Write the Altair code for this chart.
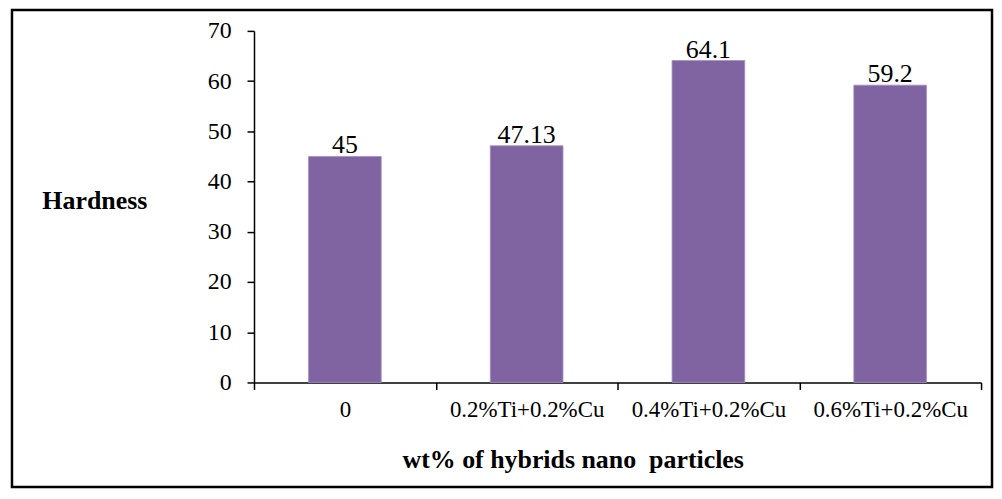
import altair as alt
import pandas as pd

categories = ["0", "0.2%Ti+0.2%Cu", "0.4%Ti+0.2%Cu", "0.6%Ti+0.2%Cu"]
hardness = [45, 47.13, 64.1, 59.2]
labels = ["45", "47.13", "64.1", "59.2"]
y_ticks = [0, 10, 20, 30, 40, 50, 60, 70]

df = pd.DataFrame({"cat": categories, "val": hardness, "lab": labels})

FONT = "'Liberation Serif', 'Times New Roman', serif"
W, H = 730, 353

x_enc = alt.X(
    "cat:N",
    sort=categories,
    scale=alt.Scale(paddingInner=0, paddingOuter=0),
    axis=alt.Axis(
        title="wt% of hybrids nano\u00a0 particles",
        titleFont=FONT, titleFontSize=26, titleFontWeight="bold", titleColor="black",
        titleX=320, titleY=85, titleBaseline="alphabetic", titleAlign="center",
        labelFont=FONT, labelFontSize=23, labelColor="black", labelAngle=0,
        labelPadding=9, tickBand="extent", tickSize=7, tickColor="black",
        tickWidth=1.5, domainColor="black", domainWidth=1.5, grid=False,
    ),
)
y_enc = alt.Y(
    "val:Q",
    scale=alt.Scale(domain=[0, 70]),
    axis=alt.Axis(
        values=y_ticks, title="Hardness",
        titleFont=FONT, titleFontSize=26, titleFontWeight="bold", titleColor="black",
        titleAngle=0, titleX=-213, titleY=178, titleAlign="left",
        titleBaseline="alphabetic",
        labelFont=FONT, labelFontSize=24, labelColor="black", labelPadding=16,
        tickSize=7, tickColor="black", tickWidth=1.5,
        domainColor="black", domainWidth=1.5, grid=False,
    ),
)

base = alt.Chart(df)
bars = base.mark_bar(
    color="#8064A2", stroke="#a390c4", strokeWidth=0.8, width=alt.RelativeBandSize(0.4)
).encode(x=x_enc, y=y_enc)
text = base.mark_text(font=FONT, fontSize=26, color="black", baseline="alphabetic", dy=-3).encode(
    x=alt.X("cat:N", sort=categories), y="val:Q", text="lab:N"
)
border = alt.Chart(pd.DataFrame({"a": [0]})).mark_rect(
    filled=False, stroke="black", strokeWidth=2.5
).encode(x=alt.value(-243), x2=alt.value(741), y=alt.value(-21), y2=alt.value(458))

chart = alt.layer(bars, text, border).properties(
    width=W, height=H,
    autosize=alt.AutoSizeParams(type="none"),
    padding={"left": 247, "top": 22, "right": 13, "bottom": 108},
).configure_view(strokeWidth=0)

chart.save("out.html", embed_options={"renderer": "svg", "actions": False})
